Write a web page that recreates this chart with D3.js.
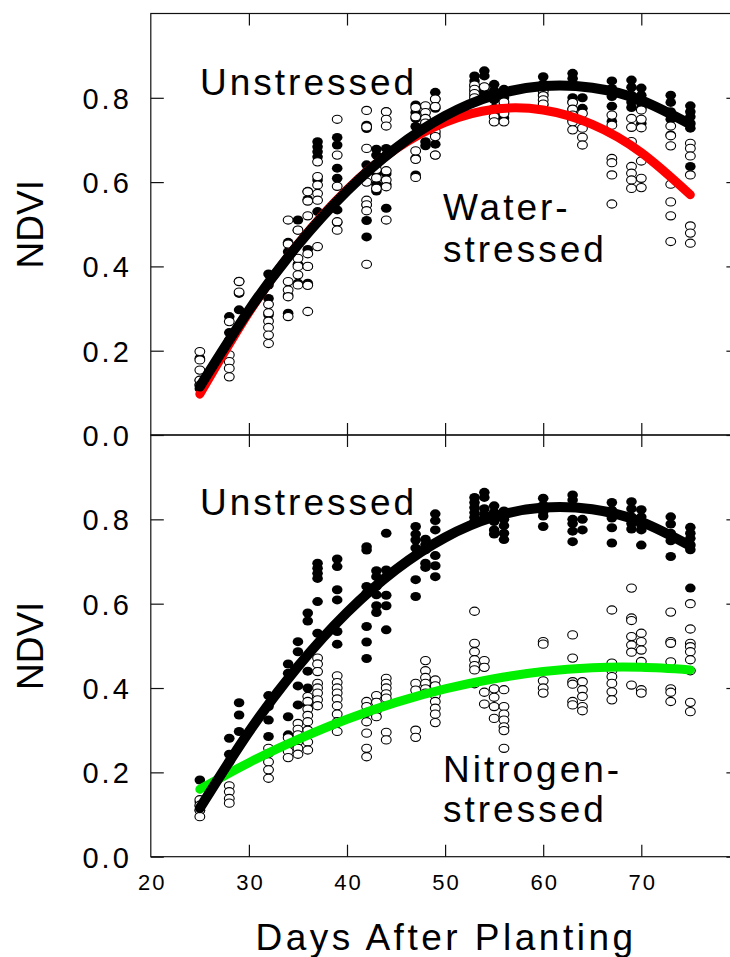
<!DOCTYPE html>
<html>
<head>
<meta charset="utf-8">
<script src="https://cdn.jsdelivr.net/npm/d3@7"></script>
<style>
  html, body { margin: 0; padding: 0; background: #fff; }
  svg { display: block; }
  text { font-family: "Liberation Sans", Arial, Helvetica, sans-serif; fill: #000; }
</style>
</head>
<body>
<svg id="chart" width="730" height="957"></svg>
<script>
// ---------------- DATA ----------------
const days = [25, 28, 29, 32, 34, 35, 36, 37, 39, 42, 43, 44, 47, 48, 49, 53, 54, 55, 56, 60, 63, 64, 67, 69, 70, 73, 75];

// Unstressed (filled circles) – same values appear in both panels
const unstressed = [
  [0.182, 0.13, 0.12, 0.11],
  [0.281, 0.243, 0.225],
  [0.365, 0.336, 0.297],
  [0.382, 0.356, 0.324, 0.285],
  [0.457, 0.435, 0.332, 0.289],
  [0.51, 0.486, 0.405, 0.36],
  [0.578, 0.559, 0.44, 0.40, 0.36],
  [0.696, 0.684, 0.672, 0.66, 0.605, 0.53],
  [0.706, 0.688, 0.633, 0.609, 0.534, 0.504],
  [0.735, 0.727, 0.641, 0.625, 0.546, 0.509, 0.47],
  [0.678, 0.664, 0.641, 0.621, 0.595, 0.579],
  [0.767, 0.68, 0.664, 0.62, 0.595, 0.538],
  [0.783, 0.765, 0.751, 0.732, 0.657, 0.617],
  [0.753, 0.74, 0.728, 0.696, 0.686],
  [0.813, 0.797, 0.775, 0.714, 0.69, 0.664],
  [0.852, 0.84, 0.828, 0.816, 0.805, 0.795],
  [0.864, 0.852, 0.825, 0.812],
  [0.832, 0.817, 0.795, 0.775, 0.765],
  [0.82, 0.80, 0.785, 0.767, 0.752],
  [0.85, 0.833, 0.818, 0.808, 0.783],
  [0.858, 0.846, 0.80, 0.79, 0.772, 0.747],
  [0.80, 0.775],
  [0.84, 0.822, 0.803, 0.78, 0.744],
  [0.842, 0.825, 0.806, 0.79, 0.777],
  [0.823, 0.806, 0.787, 0.775, 0.739],
  [0.806, 0.789, 0.767, 0.749, 0.712],
  [0.781, 0.767, 0.755, 0.74, 0.728, 0.637]
];

// Water-stressed (open circles, top panel)
const waterStressed = [
  [0.198, 0.178, 0.154, 0.13, 0.118],
  [0.269, 0.19, 0.174, 0.158, 0.138],
  [0.364, 0.339],
  [0.31, 0.29, 0.27, 0.255, 0.237, 0.217],
  [0.51, 0.453, 0.364, 0.344, 0.328, 0.281],
  [0.486, 0.419, 0.40, 0.38, 0.356],
  [0.577, 0.555, 0.52, 0.43, 0.40, 0.355, 0.293],
  [0.648, 0.613, 0.593, 0.573, 0.557, 0.447],
  [0.749, 0.664, 0.59, 0.506, 0.486],
  [0.77, 0.731, 0.68, 0.60, 0.557, 0.546, 0.532, 0.405],
  [0.63, 0.61, 0.585],
  [0.767, 0.749, 0.733, 0.627, 0.605, 0.589, 0.51],
  [0.777, 0.755, 0.674, 0.654, 0.611],
  [0.781, 0.765, 0.751, 0.74],
  [0.797, 0.779, 0.72, 0.708, 0.664],
  [0.83, 0.82, 0.81, 0.80],
  [0.826],
  [0.771, 0.755, 0.743],
  [0.79, 0.763, 0.743],
  [0.815, 0.805, 0.795, 0.785],
  [0.789, 0.773, 0.759, 0.743, 0.724],
  [0.763, 0.728, 0.706, 0.688],
  [0.759, 0.735, 0.656, 0.646, 0.617, 0.548],
  [0.751, 0.73, 0.696, 0.637, 0.621, 0.605, 0.585],
  [0.771, 0.749, 0.729, 0.65, 0.609, 0.587],
  [0.733, 0.71, 0.686, 0.595, 0.553, 0.52, 0.459],
  [0.692, 0.68, 0.662, 0.617, 0.496, 0.479, 0.455]
];

// Nitrogen-stressed (open circles, bottom panel)
const nitrogenStressed = [
  [0.135, 0.122, 0.11, 0.095],
  [0.168, 0.154, 0.138, 0.127],
  [],
  [0.257, 0.245, 0.225, 0.206, 0.186],
  [0.282, 0.265, 0.25, 0.235],
  [0.316, 0.302, 0.289, 0.273, 0.257, 0.243],
  [0.38, 0.368, 0.35, 0.335, 0.32, 0.30, 0.272, 0.253],
  [0.471, 0.457, 0.439, 0.411, 0.40, 0.388, 0.372, 0.358],
  [0.429, 0.413, 0.40, 0.388, 0.374, 0.358, 0.338, 0.32, 0.297],
  [0.368, 0.356, 0.342, 0.32, 0.293, 0.257, 0.237],
  [0.382, 0.366, 0.346, 0.332],
  [0.423, 0.411, 0.40, 0.386, 0.376, 0.295, 0.277],
  [0.411, 0.395, 0.30, 0.283],
  [0.465, 0.441, 0.425, 0.411, 0.398, 0.388],
  [0.419, 0.405, 0.382, 0.368, 0.352, 0.338, 0.318],
  [0.582, 0.506, 0.486, 0.467, 0.453, 0.443, 0.41],
  [0.465, 0.449, 0.39, 0.362],
  [0.398, 0.378, 0.356, 0.328],
  [0.396, 0.356, 0.338, 0.324, 0.308, 0.299, 0.257],
  [0.51, 0.504, 0.417, 0.40, 0.388],
  [0.526, 0.471, 0.415, 0.409, 0.368, 0.36],
  [0.415, 0.396, 0.38, 0.356, 0.346],
  [0.585, 0.459, 0.441, 0.427, 0.411, 0.391, 0.372],
  [0.637, 0.566, 0.56, 0.522, 0.502, 0.485, 0.407],
  [0.53, 0.51, 0.49, 0.463, 0.396, 0.388],
  [0.58, 0.51, 0.506, 0.462, 0.398, 0.39, 0.368],
  [0.60, 0.54, 0.506, 0.498, 0.486, 0.467, 0.441, 0.366, 0.344]
];

// Fitted curves (read at 5-day steps)
const fitDays      = [25, 30, 35, 40, 45, 50, 55, 60, 65, 70, 75];
const fitUnstressed = [0.115, 0.296, 0.451, 0.579, 0.681, 0.757, 0.806, 0.828, 0.824, 0.794, 0.737];
const fitWater      = [0.097, 0.291, 0.453, 0.582, 0.679, 0.742, 0.773, 0.771, 0.737, 0.670, 0.570];
const fitNitrogen   = [0.160, 0.223, 0.278, 0.326, 0.366, 0.398, 0.422, 0.439, 0.448, 0.449, 0.443];

const xTicks = [20, 30, 40, 50, 60, 70];
const yTicks = [0.0, 0.2, 0.4, 0.6, 0.8];

// ---------------- CHART ----------------
const svg = d3.select("#chart");
const left = 150.8, right = 739.4;
const x = d3.scaleLinear().domain([20, 80]).range([left, right]);
const panels = [
  { top: 13.5, bottom: 435 },
  { top: 435, bottom: 856.7 }
];
panels.forEach(p => { p.y = d3.scaleLinear().domain([0, 1]).range([p.bottom, p.top]); });

function flat(series) {
  const out = [];
  days.forEach((d, i) => series[i].forEach(v => out.push([d, v])));
  return out;
}

function drawFrame(g, p) {
  g.append("rect")
    .attr("x", left).attr("y", p.top)
    .attr("width", right - left).attr("height", p.bottom - p.top)
    .attr("fill", "none").attr("stroke", "#111").attr("stroke-width", 1.2);
  const yIn = 13, xIn = 12;
  const ax = [
    g.append("g").attr("transform", `translate(${left},0)`).call(d3.axisLeft(p.y).tickValues(yTicks).tickSize(-yIn).tickFormat("")),
    g.append("g").attr("transform", `translate(${right},0)`).call(d3.axisRight(p.y).tickValues(yTicks).tickSize(-yIn).tickFormat("")),
    g.append("g").attr("transform", `translate(0,${p.top})`).call(d3.axisTop(x).tickValues([30,40,50,60,70]).tickSize(-xIn).tickFormat("")),
    g.append("g").attr("transform", `translate(0,${p.bottom})`).call(d3.axisBottom(x).tickValues([30,40,50,60,70]).tickSize(-xIn).tickFormat(""))
  ];
  ax.forEach(a => {
    a.select(".domain").remove();
    a.selectAll(".tick line").attr("stroke", "#111").attr("stroke-width", 1.2);
  });
  // y tick labels
  const lab = g.append("g").attr("transform", `translate(${left},0)`)
    .call(d3.axisLeft(p.y).tickValues(yTicks).tickSize(0).tickPadding(19).tickFormat(d3.format(".1f")));
  lab.select(".domain").remove();
  lab.selectAll(".tick text")
    .attr("font-size", 29).attr("dy", "0.36em")
    .style("letter-spacing", "3px")
    .style("font-family", '"Liberation Sans", Arial, sans-serif');
}

function lineGen(p) {
  return d3.line().x(d => x(d[0])).y(d => p.y(d[1])).curve(d3.curveNatural);
}

function drawLine(g, p, vals, color, w) {
  g.append("path")
    .datum(fitDays.map((d, i) => [d, vals[i]]))
    .attr("d", lineGen(p))
    .attr("fill", "none").attr("stroke", color)
    .attr("stroke-width", w).attr("stroke-linecap", "round").attr("stroke-linejoin", "round");
}

function drawPoints(g, p, series, filled) {
  g.append("g").selectAll("ellipse").data(flat(series)).join("ellipse")
    .attr("cx", d => x(d[0])).attr("cy", d => p.y(d[1]))
    .attr("rx", filled ? 5.3 : 4.9).attr("ry", filled ? 4.5 : 4.1)
    .attr("fill", filled ? "#000" : "#fff")
    .attr("stroke", filled ? "none" : "#000").attr("stroke-width", 1.1);
}

function label(g, xp, yp, txt) {
  g.append("text").attr("x", xp).attr("y", yp).attr("font-size", 37)
    .style("letter-spacing", "3px").text(txt);
}

// Top panel
const gTop = svg.append("g");
drawFrame(gTop, panels[0]);
drawPoints(gTop, panels[0], unstressed, true);
drawPoints(gTop, panels[0], waterStressed, false);
drawLine(gTop, panels[0], fitWater, "#ff0000", 9);
drawLine(gTop, panels[0], fitUnstressed, "#000", 10);
label(gTop, 200, 95, "Unstressed");
label(gTop, 443, 220, "Water-");
label(gTop, 443, 262, "stressed");

// Bottom panel
const gBot = svg.append("g");
drawFrame(gBot, panels[1]);
drawPoints(gBot, panels[1], unstressed, true);
drawPoints(gBot, panels[1], nitrogenStressed, false);
drawLine(gBot, panels[1], fitNitrogen, "#00f000", 9);
drawLine(gBot, panels[1], fitUnstressed, "#000", 10);
label(gBot, 200, 515, "Unstressed");
label(gBot, 443, 782, "Nitrogen-");
label(gBot, 443, 822, "stressed");

// X tick labels (bottom axis)
const xl = svg.append("g").attr("transform", `translate(0,${panels[1].bottom})`)
  .call(d3.axisBottom(x).tickValues(xTicks).tickSize(0).tickPadding(18).tickFormat(d3.format("d")));
xl.select(".domain").remove();
xl.selectAll(".tick text").attr("font-size", 22).style("letter-spacing", "2px")
  .attr("dx", "1px")
  .style("font-family", '"Liberation Sans", Arial, sans-serif');

// Axis titles
svg.append("text").attr("x", 446).attr("y", 950).attr("text-anchor", "middle")
  .attr("font-size", 37).style("letter-spacing", "3.5px").text("Days After Planting");

panels.forEach(p => {
  const cy = (p.top + p.bottom) / 2;
  svg.append("text").attr("transform", `translate(43,${cy}) rotate(-90)`)
    .attr("text-anchor", "middle").attr("font-size", 37).text("NDVI");
});
</script>
</body>
</html>
